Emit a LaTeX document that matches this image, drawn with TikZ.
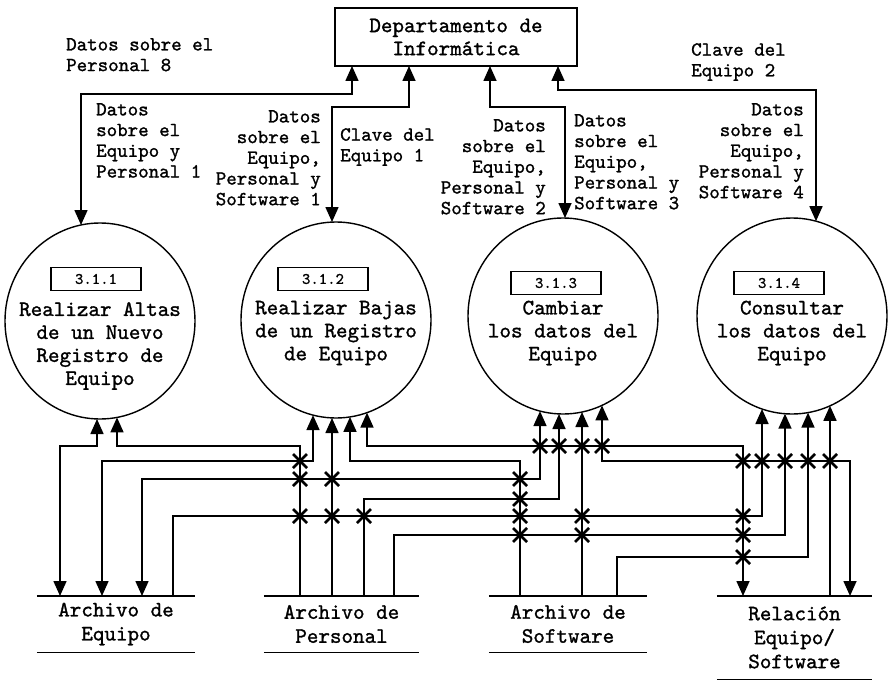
\documentclass[tikz,border=0pt]{standalone}
\usepackage{fontspec}
\newfontfamily\courlike{lmmono10-regular.otf}[FakeBold=1.2]
\usetikzlibrary{arrows.meta,shapes.geometric}
\begin{document}
\begin{tikzpicture}[x=1pt,y=-1pt,
  >={Triangle[length=15pt,width=13pt]},
  conn/.style={line width=1.6pt},
  xm/.style={line width=2.6pt},
  lbl/.style={font=\courlike\fontsize{20}{20.7}\selectfont, inner sep=0pt},
  lblL/.style={lbl, align=left, anchor=north west},
  lblR/.style={lbl, align=right, anchor=north east},
  bigtext/.style={font=\courlike\fontsize{22}{23}\selectfont, align=center, inner sep=0pt},
  proc/.style={ellipse, draw, line width=1.4pt, minimum width=190pt, minimum height=196pt, inner sep=0pt},
  numbox/.style={draw, line width=1.4pt, minimum width=90pt, minimum height=23pt, inner sep=0pt, font=\courlike\fontsize{16}{16}\selectfont},
  store/.style={minimum height=56pt, inner sep=0pt, font=\courlike\fontsize{22}{24}\selectfont, align=center},
  storeline/.style={line width=1.4pt},
]
\useasboundingbox (0,0) rectangle (888,682);

% external entity
\node[draw, line width=1.4pt, minimum width=242pt, minimum height=58pt, bigtext] (dept) at (456,37) {Departamento de\\Inform\'atica};

% processes
\node[proc] (c1) at (100,321) {};
\node[proc] (c2) at (336,320) {};
\node[proc] (c3) at (563,316) {};
\node[proc] (c4) at (792,316) {};
\node[numbox] (n1) at (96,279) {3.1.1};
\node[numbox] (n2) at (323,279) {3.1.2};
\node[numbox] (n3) at (556,283) {3.1.3};
\node[numbox] (n4) at (779,283) {3.1.4};
\node[bigtext] (t1) at (100,346) {Realizar Altas\\de un Nuevo\\Registro de\\Equipo};
\node[bigtext] (t2) at (336,333) {Realizar Bajas\\de un Registro\\de Equipo};
\node[bigtext] (t3) at (563,333) {Cambiar\\los datos del\\Equipo};
\node[bigtext] (t4) at (792,333) {Consultar\\los datos del\\Equipo};

% data stores
\node[store, minimum width=158pt] (ae) at (116,624) {Archivo de\\Equipo};
\node[store, minimum width=155pt] (ap) at (341.5,624) {Archivo de\\Personal};
\node[store, minimum width=158pt] (as) at (568,624) {Archivo de\\Software};
\node[store, minimum width=155pt, minimum height=83pt] (rel) at (794.5,637.5) {Relaci\'on\\Equipo/\\Software};
\foreach \s in {ae,ap,as,rel}
  \draw[storeline] (\s.north west) -- (\s.north east) (\s.south west) -- (\s.south east);

% labels
\node[lblL] (l8) at (66,38) {Datos sobre el\\Personal 8};
\node[lblL] (l1) at (96,103) {Datos\\sobre el\\Equipo y\\Personal 1};
\node[lblR] (ls1) at (321,110) {Datos\\sobre el\\Equipo,\\Personal y\\Software 1};
\node[lblL] (lc1) at (340,128) {Clave del\\Equipo 1};
\node[lblR] (ls2) at (546,119) {Datos\\sobre el\\Equipo,\\Personal y\\Software 2};
\node[lblL] (ls3) at (574,114) {Datos\\sobre el\\Equipo,\\Personal y\\Software 3};
\node[lblR] (ls4) at (804,103) {Datos\\sobre el\\Equipo,\\Personal y\\Software 4};
\node[lblL] (lc2) at (691,43) {Clave del\\Equipo 2};

% coordinates: top
\coordinate (d1) at (352,66);
\coordinate (d2) at (409,66);
\coordinate (d3) at (490,66);
\coordinate (d4) at (558,66);
\coordinate (c1t) at (81,225);
\coordinate (c2t) at (332,222);
\coordinate (c3t) at (565,218);
\coordinate (c4t) at (816,221.2);
\coordinate (h1) at (0,94);
\coordinate (h2) at (0,107);
\coordinate (h4) at (0,90);

\draw[conn,<->] (c1t) |- (d1 |- h1) -- (d1);
\draw[conn,<->] (c2t) |- (d2 |- h2) -- (d2);
\draw[conn,<->] (c3t) |- (d3 |- h2) -- (d3);
\draw[conn,<->] (c4t) |- (d4 |- h4) -- (d4);

% coordinates: bottom
\coordinate (ae1) at (60,596);  \coordinate (ae2) at (102,596);
\coordinate (ae3) at (142,596); \coordinate (ae4) at (173,596);
\coordinate (ap1) at (300,596); \coordinate (ap2) at (332,596);
\coordinate (ap3) at (364,596); \coordinate (ap4) at (394,596);
\coordinate (as1) at (520,596); \coordinate (as2) at (582,596);
\coordinate (as3) at (617,596);
\coordinate (re1) at (743,596); \coordinate (re2) at (830,596);
\coordinate (re3) at (850,596);

\coordinate (c1a) at (97,419);  \coordinate (c1b) at (117,417.4);
\coordinate (c2a) at (313,415.1); \coordinate (c2b) at (332,418);
\coordinate (c2c) at (350,416.9); \coordinate (c2d) at (367,412.6);
\coordinate (c3a) at (540,411.1); \coordinate (c3b) at (559,414);
\coordinate (c3c) at (582,412);   \coordinate (c3d) at (602,405.4);
\coordinate (c4a) at (762,409);   \coordinate (c4b) at (785,413.7);
\coordinate (c4c) at (808,412.6); \coordinate (c4d) at (830,405.8);

\coordinate (y1) at (0,446);
\coordinate (y2) at (0,461);
\coordinate (y3) at (0,479);
\coordinate (y4) at (0,499);
\coordinate (y5) at (0,516);
\coordinate (y6) at (0,535);
\coordinate (y7) at (0,557);

\draw[conn,<->] (ae1) |- (c1a |- y1) -- (c1a);
\draw[conn,->] (ap1) |- (c1b |- y1) -- (c1b);
\draw[conn,<->] (ae2) |- (c2a |- y2) -- (c2a);
\draw[conn,->] (ap2) -- (c2b);
\draw[conn,->] (as1) |- (c2c |- y2) -- (c2c);
\draw[conn,<->] (re1) |- (c2d |- y1) -- (c2d);
\draw[conn,<->] (ae3) |- (c3a |- y3) -- (c3a);
\draw[conn,->] (ap3) |- (c3b |- y4) -- (c3b);
\draw[conn,->] (as2) -- (c3c);
\draw[conn,<->] (re3) |- (c3d |- y2) -- (c3d);
\draw[conn,->] (ae4) |- (c4a |- y5) -- (c4a);
\draw[conn,->] (ap4) |- (c4b |- y6) -- (c4b);
\draw[conn,->] (as3) |- (c4c |- y7) -- (c4c);
\draw[conn,->] (re2) -- (c4d);

% crossing marks
\foreach \x/\y in {300/461,300/479,300/516,332/479,332/516,364/516,
  520/479,520/499,520/516,520/535,540/446,559/446,582/446,602/446,
  582/516,582/535,743/461,743/516,743/535,743/557,
  762/461,785/461,808/461,830/461}
  \draw[xm] (\x,\y) +(-7,-7) -- +(7,7) +(-7,7) -- +(7,-7);
\end{tikzpicture}
\end{document}
